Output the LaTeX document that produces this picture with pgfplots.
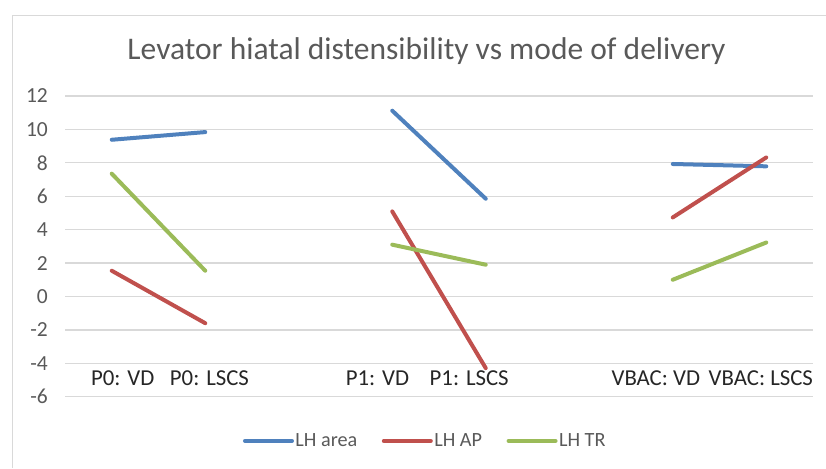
\documentclass[border=0pt]{standalone}
\usepackage{fontspec}
\setmainfont{Carlito}
\usepackage{pgfplots}
\pgfplotsset{compat=1.18}
\definecolor{cblue}{HTML}{4F81BD}
\definecolor{cred}{HTML}{C0504D}
\definecolor{cgreen}{HTML}{9BBB59}
\definecolor{txt}{HTML}{595959}
\definecolor{gridc}{HTML}{D9D9D9}
\begin{document}
\begin{tikzpicture}[x=1pt,y=1pt]
\useasboundingbox (0,0) rectangle (826,468);
\draw[color=gridc, line width=1pt] (12,0) -- (12,452) -- (826,452);
\node[text=txt, font=\fontsize{31.5}{36}\selectfont, anchor=base] at (426.5,408) {Levator hiatal distensibility vs mode of delivery};
\begin{axis}[
  at={(65pt,71.3pt)}, anchor=south west,
  scale only axis, width=748pt, height=300.7pt,
  xmin=-0.5, xmax=7.5, ymin=-6, ymax=12,
  ytick={-6,-4,...,12},
  ymajorgrids, grid style={gridc, line width=1.3pt},
  axis line style={draw=none},
  major tick length=0pt,
  yticklabel style={text=txt, font=\fontsize{21.5}{24}\selectfont, anchor=east, inner sep=0pt},
  yticklabel={\pgfmathprintnumber{\tick}\hspace*{17pt}},
  /pgf/number format/assume math mode=true,
  xtick={0.118,1.045,2.842,3.823,5.819,6.942},
  xticklabels={P0: VD, P0: LSCS, P1: VD, P1: LSCS, VBAC: VD, VBAC: LSCS},
  xticklabel style={anchor=base, inner sep=0pt, yshift=10.7pt, text=black!85, font=\fontsize{22.8}{26}\selectfont},
  unbounded coords=jump,
  legend columns=3,
  legend style={at={(0.4813,-0.147)}, anchor=center, draw=none, fill=none,
    font=\fontsize{20.2}{24}\selectfont, text=txt, inner sep=0pt,
    nodes={inner xsep=1.5pt},
    /tikz/every even column/.append style={column sep=23pt}},
  legend image code/.code={\draw[#1] (0pt,0pt) -- (47pt,0pt);},
  every axis plot/.append style={line width=4pt, line cap=round},
]
\addplot[cblue] coordinates {(0,9.38) (1,9.84) (2,nan) (3,11.12) (4,5.85) (5,nan) (6,7.93) (7,7.79)};
\addlegendentry{LH area}
\addplot[cred] coordinates {(0,1.54) (1,-1.60) (2,nan) (3,5.09) (4,-4.29) (5,nan) (6,4.73) (7,8.32)};
\addlegendentry{LH AP}
\addplot[cgreen] coordinates {(0,7.35) (1,1.54) (2,nan) (3,3.10) (4,1.90) (5,nan) (6,1.00) (7,3.23)};
\addlegendentry{LH TR}
\end{axis}
\end{tikzpicture}
\end{document}
